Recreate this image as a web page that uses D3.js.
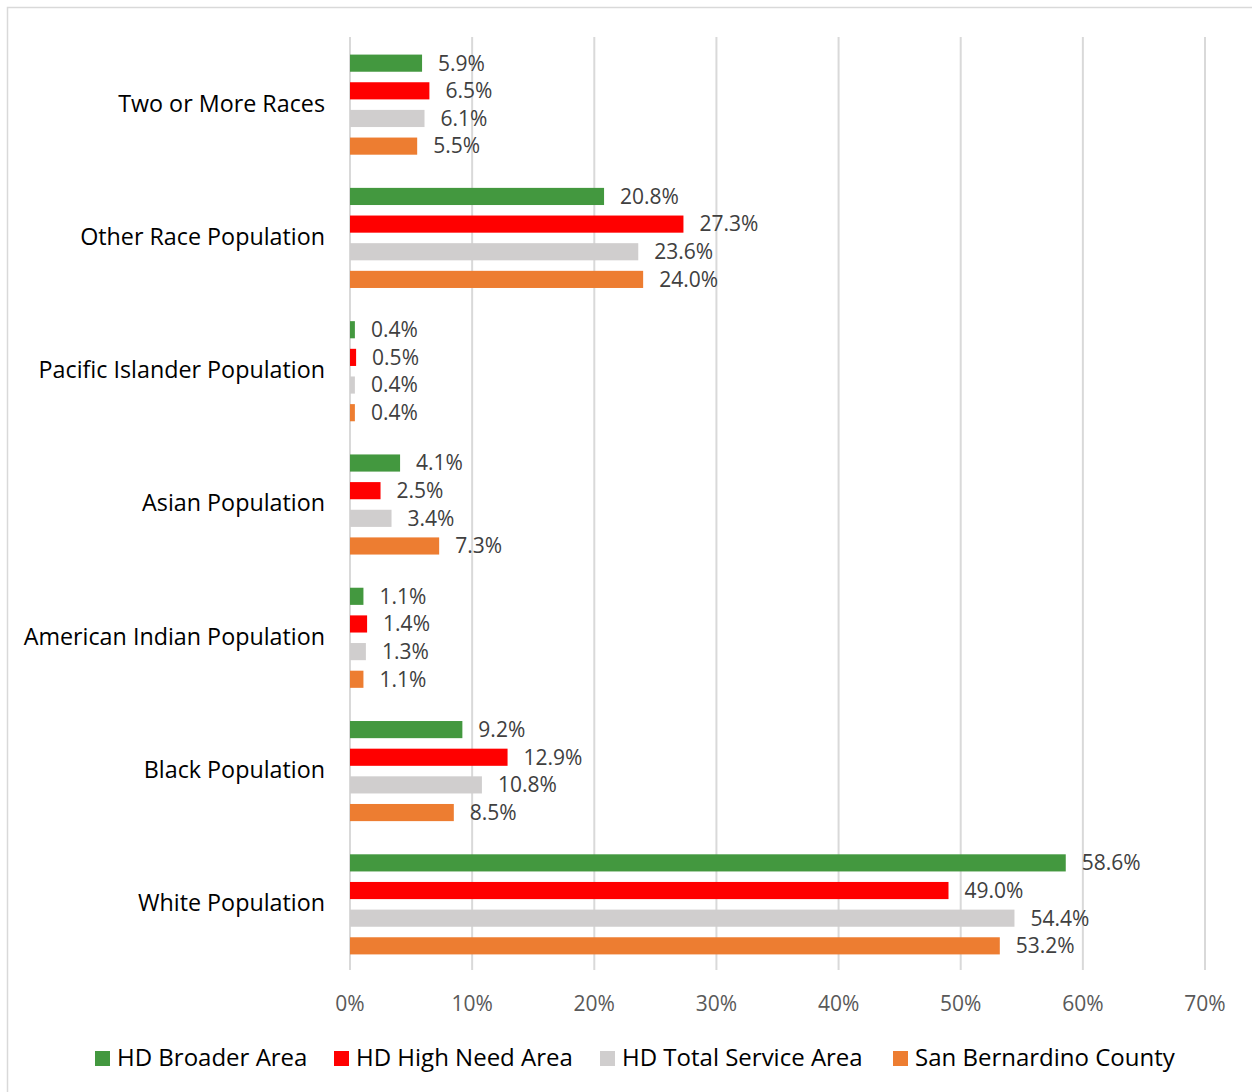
<!DOCTYPE html>
<html>
<head>
<meta charset="utf-8">
<script src="https://cdn.jsdelivr.net/npm/d3@7"></script>
<style>
  html, body { margin: 0; padding: 0; background: #fff; }
  svg { display: block; font-family: "Open Sans", sans-serif; }
</style>
</head>
<body>
<svg id="chart" width="1252" height="1092"></svg>
<script>
// categories, top to bottom as drawn
const categories = [
    'Two or More Races',
    'Other Race Population',
    'Pacific Islander Population',
    'Asian Population',
    'American Indian Population',
    'Black Population',
    'White Population'
];

const seriesNames = ['HD Broader Area', 'HD High Need Area', 'HD Total Service Area', 'San Bernardino County'];
const seriesColors = ['#43983F', '#FF0000', '#D0CECE', '#ED7D31'];

// percent values, same order as categories
const broaderArea   = [5.9, 20.8, 0.4, 4.1, 1.1, 9.2, 58.6];
const highNeedArea  = [6.5, 27.3, 0.5, 2.5, 1.4, 12.9, 49.0];
const totalService  = [6.1, 23.6, 0.4, 3.4, 1.3, 10.8, 54.4];
const sanBernardino = [5.5, 24.0, 0.4, 7.3, 1.1, 8.5, 53.2];

const xTicks = [0, 10, 20, 30, 40, 50, 60, 70];

const seriesValues = [broaderArea, highNeedArea, totalService, sanBernardino];

const svg = d3.select('#chart');

// outer frame
svg.append('rect')
    .attr('x', 7.5).attr('y', 7.5)
    .attr('width', 1300).attr('height', 1200)
    .attr('fill', 'none')
    .attr('stroke', '#D9D9D9')
    .attr('stroke-width', 1.5);

const x = d3.scaleLinear().domain([0, 70]).range([350, 1205]);

const y = d3.scaleBand()
    .domain(categories)
    .range([38, 971]);

const ySeries = d3.scaleBand()
    .domain(seriesNames)
    .range([0, y.bandwidth()])
    .paddingInner(0.38)
    .paddingOuter(0.6);

// gridlines
svg.append('g')
    .selectAll('line')
    .data(xTicks)
    .join('line')
        .attr('x1', d => x(d)).attr('x2', d => x(d))
        .attr('y1', 37).attr('y2', 970)
        .attr('stroke', '#D9D9D9')
        .attr('stroke-width', 2);

// tick labels
svg.append('g')
        .attr('text-anchor', 'middle')
        .attr('fill', '#595959')
        .attr('font-size', '21px')
    .selectAll('text')
    .data(xTicks)
    .join('text')
        .attr('x', d => x(d))
        .attr('y', 1011)
        .text(d => d + '%');

// category labels
svg.append('g')
        .attr('text-anchor', 'end')
        .attr('fill', '#000')
        .attr('font-size', '23.3px')
    .selectAll('text')
    .data(categories)
    .join('text')
        .attr('x', 325)
        .attr('y', d => y(d) + y.bandwidth() / 2)
        .attr('dy', '0.3em')
        .text(d => d);

const rows = categories.flatMap((c, i) => seriesNames.map((s, j) => ({
    category: c,
    series: s,
    color: seriesColors[j],
    value: seriesValues[j][i]
})));

const bars = svg.append('g');

bars.selectAll('rect')
    .data(rows)
    .join('rect')
        .attr('x', x(0))
        .attr('y', d => y(d.category) + ySeries(d.series))
        .attr('width', d => x(d.value) - x(0))
        .attr('height', ySeries.bandwidth())
        .attr('fill', d => d.color);

bars.selectAll('text')
    .data(rows)
    .join('text')
        .attr('x', d => x(d.value) + 16)
        .attr('y', d => y(d.category) + ySeries(d.series) + ySeries.bandwidth() / 2)
        .attr('dy', '0.35em')
        .attr('fill', '#404040')
        .attr('font-size', '21px')
        .text(d => d.value.toFixed(1) + '%');

// legend
const legendX = [95, 334, 600, 893];
const legend = svg.append('g')
    .selectAll('g')
    .data(seriesNames)
    .join('g')
        .attr('transform', (d, i) => `translate(${legendX[i]}, 1051)`);

legend.append('rect')
    .attr('width', 15).attr('height', 15)
    .attr('fill', (d, i) => seriesColors[i]);

legend.append('text')
    .attr('x', 22)
    .attr('y', 7.5)
    .attr('dy', '0.33em')
    .attr('font-size', '24px')
    .attr('fill', '#000')
    .text(d => d);
</script>
</body>
</html>
